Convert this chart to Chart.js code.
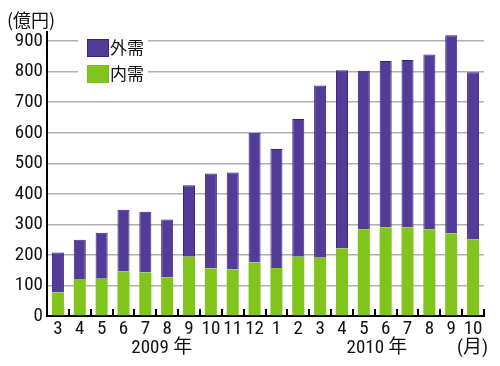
<!DOCTYPE html>
<html>
<head>
<meta charset="utf-8">
<script src="https://cdn.jsdelivr.net/npm/chart.js@4"></script>
<style>
  html, body { margin: 0; padding: 0; background: #fff; }
  #wrap { width: 500px; height: 366px; position: relative; }
</style>
</head>
<body>
<div id="wrap"><canvas id="grafico"></canvas></div>
<script>
// meses (2009/3 - 2010/10)
const meses = ['3', '4', '5', '6', '7', '8', '9', '10', '11', '12', '1', '2', '3', '4', '5', '6', '7', '8', '9', '10'];
// 内需 (parte verde, de baixo)
const naiju = [77, 121, 122, 146, 143, 126, 194, 156, 152, 175, 157, 194, 191, 221, 284, 291, 291, 284, 270, 251];
const totais = [208, 250, 273, 348, 341, 316, 428, 467, 470, 600, 547, 645, 755, 805, 803, 835, 838, 856, 919, 798];
// 外需 = total - 内需
const gaiju = totais.map((t, i) => t - naiju[i]);
const anos = [{ texto: '2009 年', pos: 4.75 }, { texto: '2010 年', pos: 14.6 }];

const fonte = "'Roboto Condensed', 'Noto Sans CJK JP', sans-serif";
const fonteJP = "'Noto Sans CJK JP', sans-serif";

// plugin para textos extras, marcas do eixo x e legenda
const extras = {
  id: 'extras',
  afterDatasetsDraw(chart) {
    const ctx = chart.ctx;
    const x = chart.scales.x;
    const area = chart.chartArea;
    ctx.save();

    // marcas entre as categorias, para cima
    ctx.strokeStyle = '#000';
    ctx.lineWidth = 2;
    for (let i = 0; i <= meses.length; i++) {
      const px = Math.round(x.getPixelForValue(i - 0.5));
      ctx.beginPath();
      ctx.moveTo(px, area.bottom);
      ctx.lineTo(px, area.bottom - 7);
      ctx.stroke();
    }

    // legenda com fundo branco
    ctx.fillStyle = '#fff';
    ctx.fillRect(78, 34, 70, 52);
    const itens = chart.data.datasets.slice().reverse();
    itens.forEach((ds, i) => {
      const top = 39 + i * 26;
      ctx.fillStyle = ds.backgroundColor;
      ctx.fillRect(87, top, 22, 18);
      ctx.strokeStyle = ds.borderColor;
      ctx.lineWidth = 1;
      ctx.strokeRect(87.5, top + 0.5, 21, 17);
      ctx.fillStyle = '#111';
      ctx.font = '17px ' + fonteJP;
      ctx.textAlign = 'left';
      ctx.textBaseline = 'middle';
      ctx.fillText(ds.label, 110, top + 9);
    });

    // unidade do eixo y
    ctx.fillStyle = '#111';
    ctx.font = '18px ' + fonteJP;
    ctx.textAlign = 'left';
    ctx.textBaseline = 'middle';
    ctx.fillText('(億円)', 7, 20);

    // anos
    ctx.font = '19px ' + fonte;
    ctx.textAlign = 'center';
    anos.forEach(a => {
      ctx.fillText(a.texto, x.getPixelForValue(a.pos), 348);
    });
    ctx.textAlign = 'right';
    ctx.fillText('(月)', 488, 348);
    ctx.restore();
  }
};

const config = {
  type: 'bar',
  data: {
    labels: meses,
    datasets: [{
      label: '内需',
      data: naiju,
      backgroundColor: '#80c41c',
      borderColor: '#7ab82a',
      borderWidth: 0,
      barPercentage: 0.55,
      categoryPercentage: 1
    }, {
      label: '外需',
      data: gaiju,
      backgroundColor: '#533c97',
      borderColor: '#3b1f8e',
      borderWidth: 1,
      barPercentage: 0.55,
      categoryPercentage: 1
    }]
  },
  options: {
    responsive: true,
    maintainAspectRatio: false,
    animation: false,
    layout: { padding: { top: 32, right: 16, left: 0, bottom: 0 } },
    plugins: {
      legend: { display: false },
      tooltip: { enabled: false }
    },
    scales: {
      x: {
        stacked: true,
        grid: { display: false, drawTicks: false },
        border: { display: true, color: '#000', width: 2 },
        ticks: {
          color: '#111',
          font: { family: fonte, size: 19 },
          padding: 2,
          maxRotation: 0,
          autoSkip: false
        },
        afterFit(scale) { scale.height = 50; }
      },
      y: {
        stacked: true,
        min: 0,
        max: 930,
        grid: { color: '#b0b0b0', lineWidth: 1.5, drawTicks: false },
        border: { display: true, color: '#000', width: 2 },
        ticks: {
          stepSize: 100,
          includeBounds: false,
          color: '#111',
          font: { family: fonte, size: 19 },
          padding: 4
        },
        afterFit(scale) { scale.width = 47; }
      }
    }
  },
  plugins: [extras]
};

new Chart(document.getElementById('grafico'), config);
</script>
</body>
</html>
